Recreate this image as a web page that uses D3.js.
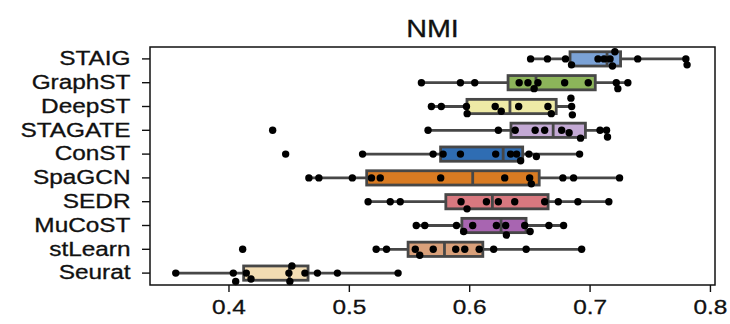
<!DOCTYPE html>
<html lang="en">
<head>
    <meta charset="UTF-8">
    <title>NMI</title>
    <script src="https://d3js.org/d3.v7.min.js"></script>
    <style>
        body { margin: 0; background: #fff; }
        text { font-family: "Liberation Sans", Arial, sans-serif; fill: #111; }
    </style>
</head>
<body>
<div id="chart"></div>
<script>
    // methods, top to bottom
    var methods = ["STAIG", "GraphST", "DeepST", "STAGATE", "ConST", "SpaGCN", "SEDR", "MuCoST", "stLearn", "Seurat"];

    // NMI per slice (12 slices each)
    var staig   = [0.651, 0.665, 0.680, 0.685, 0.707, 0.712, 0.717, 0.719, 0.721, 0.740, 0.780, 0.781];
    var graphST = [0.5603, 0.5927, 0.6046, 0.6415, 0.6488, 0.6539, 0.6571, 0.6793, 0.6989, 0.7222, 0.7235, 0.7318];
    var deepST  = [0.5686, 0.5768, 0.5977, 0.5983, 0.6216, 0.6266, 0.6411, 0.6654, 0.6682, 0.6845, 0.6851, 0.6857];
    var stagate = [0.4367, 0.5658, 0.6242, 0.6382, 0.6548, 0.6627, 0.6768, 0.6830, 0.6925, 0.7087, 0.7141, 0.7149];
    var conST   = [0.4475, 0.5114, 0.5700, 0.5783, 0.5927, 0.6220, 0.6344, 0.6394, 0.6427, 0.6496, 0.6558, 0.6917];
    var spaGCN  = [0.4668, 0.4751, 0.5029, 0.5188, 0.5261, 0.5763, 0.6295, 0.6502, 0.6516, 0.6778, 0.6867, 0.7249];
    var sedr    = [0.5160, 0.5344, 0.5427, 0.5932, 0.5982, 0.6143, 0.6242, 0.6378, 0.6627, 0.6740, 0.6903, 0.7160];
    var muCoST  = [0.5560, 0.5631, 0.5894, 0.5954, 0.6029, 0.6226, 0.6303, 0.6309, 0.6461, 0.6506, 0.6662, 0.6784];
    var stLearn = [0.4118, 0.5227, 0.5313, 0.5552, 0.5589, 0.5701, 0.5888, 0.5963, 0.6083, 0.6203, 0.6473, 0.6934];
    var seurat  = [0.3562, 0.4040, 0.4060, 0.4148, 0.4187, 0.4502, 0.4510, 0.4527, 0.4635, 0.4739, 0.4905, 0.5409];

    var series = [staig, graphST, deepST, stagate, conST, spaGCN, sedr, muCoST, stLearn, seurat];

    // strip jitter (fraction of row height)
    var jitter = [
        [0, 0, 0, 0.25, 0, 0, 0, 0.3, -0.3, 0, 0, 0.25],
        [0, 0, 0, 0, 0, 0.25, 0, 0, 0, 0, 0.25, 0],
        [0, 0, 0, 0.3, 0, 0.2, 0, 0, 0.3, -0.35, 0, 0.35],
        [0, 0, 0, 0, 0, 0, 0, 0.1, 0.33, 0, 0, 0.28],
        [0, 0, 0, 0, 0, 0, 0, 0, 0.28, 0, 0.1, 0],
        [0, 0, 0, 0, 0, 0, 0, 0, 0.25, 0, 0, 0],
        [0, 0, 0, 0, 0.3, 0, 0, 0, 0, 0, 0, 0],
        [0, 0, 0, 0.25, 0, 0, 0, 0.4, 0, 0.25, 0, 0],
        [0, 0, 0, 0, 0.25, 0, 0, 0, 0, 0, 0, 0],
        [0, 0, 0.35, 0, 0.25, 0, 0.35, -0.3, 0, 0, 0, 0]
    ];

    var colors = ["#7ba2d6", "#8cb45a", "#eeeaa6", "#c3a9d4", "#2f6db3", "#d97b22", "#d8787f", "#a865b1", "#d9a07a", "#f2dcb2"];
    var xTicks = [0.4, 0.5, 0.6, 0.7, 0.8];

    var width = 730, height = 324;
    var plot = {left: 150, right: 715, top: 47, bottom: 285};
    var sx = 1.25; // the picture is stretched sideways
    var fontSize = 19.5;

    var svg = d3.select("#chart").append("svg")
        .attr("width", width)
        .attr("height", height);

    var x = d3.scaleLinear().domain([0.3348, 0.8042]).range([plot.left, plot.right]);
    var y = d3.scaleBand().domain(methods).range([plot.top, plot.bottom]);
    var bh = y.bandwidth() * 0.6;

    // box stats like seaborn (linear percentiles, 1.5 IQR whiskers)
    var stats = series.map(function (v, i) {
        var s = v.slice().sort(d3.ascending);
        var q1 = d3.quantile(s, 0.25), med = d3.quantile(s, 0.5), q3 = d3.quantile(s, 0.75);
        var iqr = q3 - q1;
        var lo = d3.min(s.filter(function (d) { return d >= q1 - 1.5 * iqr; }));
        var hi = d3.max(s.filter(function (d) { return d <= q3 + 1.5 * iqr; }));
        return {name: methods[i], q1: q1, med: med, q3: q3, lo: lo, hi: hi, color: colors[i]};
    });

    var edge = "#474747";
    var lw = 2.8;
    var g = svg.append("g");

    // whiskers
    g.selectAll(".whisker").data(stats).enter().append("line")
        .attr("x1", function (d) { return x(d.lo); })
        .attr("x2", function (d) { return x(d.hi); })
        .attr("y1", function (d) { return y(d.name) + y.bandwidth() / 2; })
        .attr("y2", function (d) { return y(d.name) + y.bandwidth() / 2; })
        .attr("stroke", edge)
        .attr("stroke-width", lw);

    // boxes
    g.selectAll(".box").data(stats).enter().append("rect")
        .attr("x", function (d) { return x(d.q1); })
        .attr("width", function (d) { return x(d.q3) - x(d.q1); })
        .attr("y", function (d) { return y(d.name) + (y.bandwidth() - bh) / 2; })
        .attr("height", bh)
        .attr("fill", function (d) { return d.color; })
        .attr("stroke", edge)
        .attr("stroke-width", lw);

    // medians
    g.selectAll(".median").data(stats).enter().append("line")
        .attr("x1", function (d) { return x(d.med); })
        .attr("x2", function (d) { return x(d.med); })
        .attr("y1", function (d) { return y(d.name) + (y.bandwidth() - bh) / 2; })
        .attr("y2", function (d) { return y(d.name) + (y.bandwidth() + bh) / 2; })
        .attr("stroke", edge)
        .attr("stroke-width", lw);

    // points
    var pts = [];
    series.forEach(function (v, i) {
        v.forEach(function (d, j) { pts.push({name: methods[i], v: d, j: jitter[i][j]}); });
    });
    g.selectAll(".pt").data(pts).enter().append("circle")
        .attr("cx", function (d) { return x(d.v); })
        .attr("cy", function (d) { return y(d.name) + y.bandwidth() * (0.5 + d.j); })
        .attr("r", 3.7)
        .attr("fill", "#000");

    // frame
    svg.append("rect")
        .attr("x", plot.left).attr("y", plot.top)
        .attr("width", plot.right - plot.left).attr("height", plot.bottom - plot.top)
        .attr("fill", "none").attr("stroke", "#111").attr("stroke-width", 1.5);

    // axes
    var gx = svg.append("g")
        .attr("transform", "translate(0," + plot.bottom + ")")
        .call(d3.axisBottom(x).tickValues(xTicks).tickFormat(d3.format(".1f")).tickSize(7).tickPadding(8));
    var gy = svg.append("g")
        .attr("transform", "translate(" + plot.left + ",0)")
        .call(d3.axisLeft(y).tickSize(8).tickPadding(7.6));

    [gx, gy].forEach(function (a) {
        a.select(".domain").remove();
        a.selectAll(".tick line").attr("stroke", "#111").attr("stroke-width", 1.4);
        a.selectAll(".tick text")
            .attr("font-size", fontSize)
            .attr("font-family", "Liberation Sans, Arial, sans-serif")
            .attr("fill", "#111")
            .attr("stroke", "#111")
            .attr("stroke-width", 0.3)
            .attr("transform", "scale(" + sx + ",1)");
    });

    // title
    svg.append("text")
        .attr("transform", "translate(" + ((plot.left + plot.right) / 2) + ",37) scale(" + sx + ",1)")
        .attr("text-anchor", "middle")
        .attr("font-size", 23)
        .attr("stroke", "#111")
        .attr("stroke-width", 0.3)
        .text("NMI");
</script>
</body>
</html>
